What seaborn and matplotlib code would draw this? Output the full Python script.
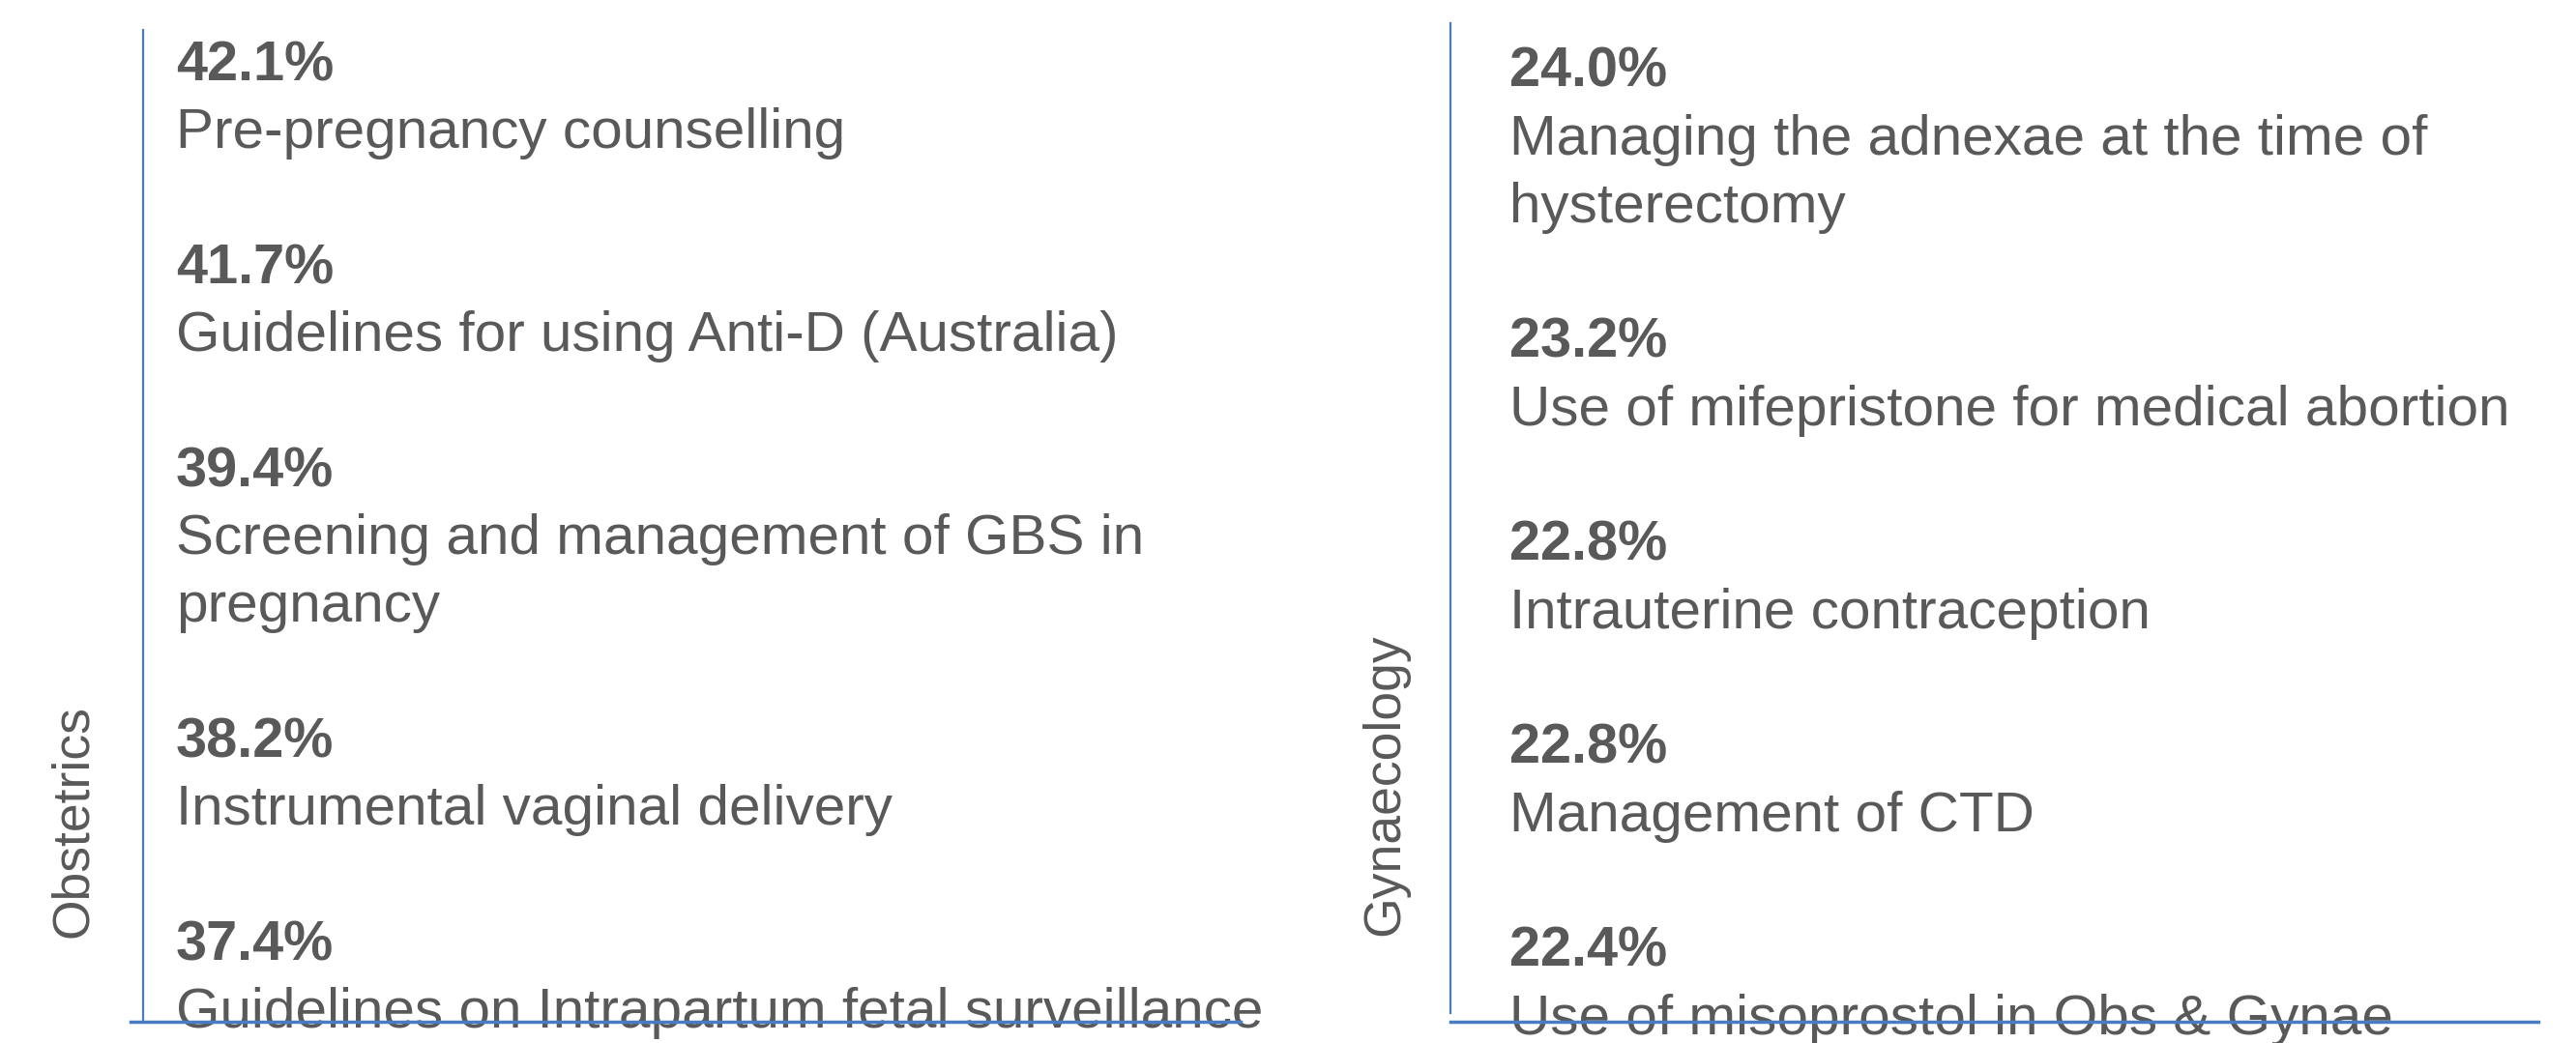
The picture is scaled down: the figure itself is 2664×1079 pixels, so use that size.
import matplotlib
matplotlib.use("Agg")
import matplotlib.pyplot as plt
import seaborn as sns

# data
obs_pct = [42.1, 41.7, 39.4, 38.2, 37.4]
obs_labels = [
    "Pre-pregnancy counselling",
    "Guidelines for using Anti-D (Australia)",
    "Screening and management of GBS in\npregnancy",
    "Instrumental vaginal delivery",
    "Guidelines on Intrapartum fetal surveillance",
]
gyn_pct = [24.0, 23.2, 22.8, 22.8, 22.4]
gyn_labels = [
    "Managing the adnexae at the time of\nhysterectomy",
    "Use of mifepristone for medical abortion",
    "Intrauterine contraception",
    "Management of CTD",
    "Use of misoprostol in Obs & Gynae",
]

sns.set_theme(style="white")
plt.rcParams["font.family"] = ["Liberation Sans", "DejaVu Sans"]

W, H = 2664, 1079
GREY = "#595959"
BLUE = "#4A7CC4"
LINE = 70  # px per text line

fig = plt.figure(figsize=(W / 100, H / 100), dpi=100)


def panel(x0, x1, top, bottom, vbottom, hleft, pct, labels, first_y, text_x, title, tx, ty):
    ax = fig.add_axes([x0 / W, (H - bottom) / H, (x1 - x0) / W, (bottom - top) / H])
    ax.set_xlim(0, x1 - x0)
    ax.set_ylim(bottom - top, 0)
    ax.set_xticks([])
    ax.set_yticks([])
    sns.despine(ax=ax, top=True, right=True)
    ax.spines["left"].set_color(BLUE)
    ax.spines["left"].set_linewidth(1.6)
    ax.spines["left"].set_bounds(vbottom - top, 0)
    ax.spines["bottom"].set_color(BLUE)
    ax.spines["bottom"].set_linewidth(2.5)
    ax.spines["bottom"].set_bounds(hleft - x0, x1 - x0)
    for s in ax.spines.values():
        s.set_zorder(5)
        s.set_clip_on(False)

    y = first_y - top
    for p, lab in zip(pct, labels):
        ax.text(text_x, y, f"{p:.1f}%", fontsize=41.5, fontweight="bold",
                color=GREY, ha="left", va="center", zorder=1)
        for line in lab.split("\n"):
            y += LINE
            ax.text(text_x, y, line, fontsize=42.1, color=GREY,
                    ha="left", va="center", zorder=1)
        y += 2 * LINE

    fig.text(tx / W, 1 - ty / H, title, rotation=90, fontsize=38.5,
             color=GREY, ha="center", va="center")
    return ax


panel(148, 1283, 31, 1057, 1057, 135, obs_pct, obs_labels, 68, 34, "Obstetrics", 76, 850)
panel(1500, 2625, 24, 1057, 1048, 1500, gyn_pct, gyn_labels, 75, 61, "Gynaecology", 1432, 812)

fig.savefig("out.png", dpi=100, facecolor="white")
